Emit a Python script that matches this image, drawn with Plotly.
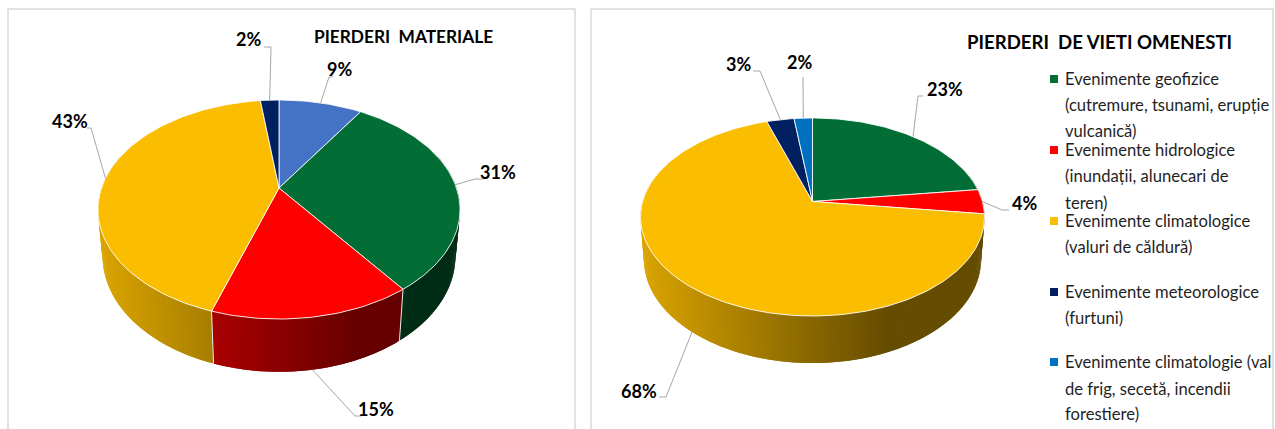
import numpy as np
import plotly.graph_objects as go

# Share of each event type, in percent
material_labels = ["Meteorologice mari", "Geofizice", "Hidrologice", "Climatologice", "Meteorologice"]
material_values = [9, 31, 15, 43, 2]
human_labels = ["Geofizice", "Hidrologice", "Climatologice", "Meteorologice", "Climatologie"]
human_values = [23, 4, 68, 3, 2]

material_colors = ["#4472C4", "#026E36", "#FF0000", "#FBBD00", "#002060"]
human_colors = ["#026E36", "#FF0000", "#FBBD00", "#002060", "#0070C0"]

title_left = "PIERDERI  MATERIALE"
title_right = "PIERDERI  DE VIETI OMENESTI"

legend_entries = [
    ("#026E36", ["Evenimente geofizice", "(cutremure, tsunami, erupție", "vulcanică)"], [79, 105, 131]),
    ("#FF0000", ["Evenimente hidrologice", "(inundații, alunecari de", "teren)"], [150, 176, 203]),
    ("#FBBD00", ["Evenimente climatologice", "(valuri de căldură)"], [221, 247]),
    ("#002060", ["Evenimente meteorologice", "(furtuni)"], [292, 318]),
    ("#0070C0", ["Evenimente climatologie (val", "de frig, secetă, incendii", "forestiere)"], [362, 389, 414]),
]

# Pie geometry in page pixels: apex, disc scale, perspective and thickness
LEFT_PIE = dict(cx=279, cy=188, a=177.5, b=105.3, k=0.1964, m=0.025, d=47)
RIGHT_PIE = dict(cx=812.5, cy=201.5, a=169.9, b=96.6, k=0.1565, m=0.02, d=42.9)

# Leader routes per slice: rim level (0 top, 1 bottom), then bend points; text centre last
LEFT_LEADERS = [
    (0, [(329, 77), (333, 77)], (339, 69)),
    (0, [(475, 179), (484, 179)], (498, 172)),
    (1, [(355, 416), (361, 416)], (376, 409)),
    (0, [(91, 128), (87, 128)], (70, 121)),
    (0, [(271, 47), (264, 47)], (248, 39)),
]
RIGHT_LEADERS = [
    (0, [(918, 96), (923, 96)], (945, 89)),
    (0, [(1002, 210), (1009, 210)], (1024, 203)),
    (1, [(666, 397), (659, 397)], (639, 391)),
    (0, [(760, 71), (753, 71)], (738, 64)),
    (0, [(803, 77)], (799, 62)),
]


def project(p, theta, z=0.0):
    """Map a rim angle (clockwise from 12 o'clock) to page pixels."""
    u, v = np.sin(theta), -np.cos(theta)
    w = 1 - p["k"] * v + p["m"] * z
    return p["cx"] + p["a"] * u / w, p["cy"] + (p["b"] * v + p["d"] * z) / w


def side_shade(color, frac):
    """Darken a base colour from left to right across the pie."""
    f = 0.87 - (0.87 - 0.40) * min(max(frac, 0) / 0.72, 1)
    r, g, b = (int(color[i:i + 2], 16) for i in (1, 3, 5))
    return f"rgb({r * f:.0f},{g * f:.0f},{b * f:.0f})"


def add_pie(fig, p, values, colors, leaders, ann):
    edges = np.cumsum([0] + list(values)) / sum(values) * 2 * np.pi
    left = project(p, -np.pi / 2)[0] - 3
    width = 2 * (p["cx"] - left)

    # Cylinder wall: fine shaded bands on the front half, each overlapping the next
    step = np.radians(0.8)
    for i, col in enumerate(colors):
        t0, t1 = edges[i], edges[i + 1]
        if t1 <= np.pi * 0.4 or t0 >= np.pi * 1.6:
            continue
        t0c, t1c = max(t0, np.pi * 0.4), min(t1, np.pi * 1.6)
        n = max(2, int((t1c - t0c) / step))
        ts = np.linspace(t0c, t1c, n + 1)
        for a0, a1 in zip(ts[:-1], ts[1:]):
            a1x = min(a1 + step, t1c)
            x0, y0 = project(p, a0)
            x1, y1 = project(p, a1x)
            x2, y2 = project(p, a1x, 1)
            x3, y3 = project(p, a0, 1)
            shade = side_shade(col, ((x0 + project(p, a1)[0]) / 2 - left) / width)
            fig.add_trace(go.Scatter(
                x=[x0, x1, x2, x3, x0], y=[y0, y1, y2, y3, y0], mode="lines",
                fill="toself", fillcolor=shade, line=dict(width=0),
                hoverinfo="skip", showlegend=False))

    # Seams where two slices meet on the wall
    for e in edges[:-1]:
        if np.pi * 0.55 < e < np.pi * 1.45:
            x0, y0 = project(p, e)
            x1, y1 = project(p, e, 1)
            fig.add_trace(go.Scatter(
                x=[x0, x1], y=[y0, y1], mode="lines",
                line=dict(color="#e8e8e8", width=1), hoverinfo="skip", showlegend=False))

    # Top face
    for i, col in enumerate(colors):
        ts = np.linspace(edges[i], edges[i + 1], max(4, int((edges[i + 1] - edges[i]) / 0.02)))
        xs, ys = project(p, ts)
        fig.add_trace(go.Scatter(
            x=np.r_[p["cx"], xs, p["cx"]], y=np.r_[p["cy"], ys, p["cy"]], mode="lines",
            fill="toself", fillcolor=col, line=dict(color="rgba(255,255,255,0.85)", width=1),
            hoverinfo="skip", showlegend=False))

    # Leader lines and percentage labels
    for i, (level, bends, centre) in enumerate(leaders):
        mid = (edges[i] + edges[i + 1]) / 2
        x0, y0 = project(p, mid, level)
        fig.add_trace(go.Scatter(
            x=[x0] + [q[0] for q in bends], y=[y0] + [q[1] for q in bends], mode="lines",
            line=dict(color="#a6a6a6", width=1), hoverinfo="skip", showlegend=False))
        ann.append(dict(x=centre[0], y=centre[1], text=f"<b>{values[i]}%</b>", showarrow=False,
                        xanchor="center", yanchor="middle",
                        font=dict(family="Lato", size=18, color="#000000")))


fig = go.Figure()
annotations = []
add_pie(fig, LEFT_PIE, material_values, material_colors, LEFT_LEADERS, annotations)
add_pie(fig, RIGHT_PIE, human_values, human_colors, RIGHT_LEADERS, annotations)

for text, x, y, size in [(title_left, 403, 36, 17.3), (title_right, 1099, 42, 18.6)]:
    annotations.append(dict(x=x, y=y, text=f"<b>{text}</b>", showarrow=False, xanchor="center",
                            yanchor="middle", font=dict(family="Lato", size=size, color="#000000")))

# Hand-placed legend so each wrapped line keeps its own row
for color, lines, rows in legend_entries:
    fig.add_trace(go.Scatter(
        x=[1054], y=[rows[0]], mode="markers",
        marker=dict(symbol="square", size=8, color=color), hoverinfo="skip", showlegend=False))
    for line, row in zip(lines, rows):
        annotations.append(dict(x=1062.5, y=row, text=line, showarrow=False, xanchor="left",
                                yanchor="middle", font=dict(family="Lato", size=16.6, color="#1f1f1f")))

panel_line = dict(color="#d9d9d9", width=1.5)
shapes = [
    dict(type="path", path="M 8 432 L 8 9 L 575 9 L 575 432", line=panel_line, layer="below"),
    dict(type="path", path="M 591 432 L 591 9 L 1273 9 L 1273 432", line=panel_line, layer="below"),
]

fig.update_layout(
    width=1275, height=429, margin=dict(l=0, r=0, t=0, b=0),
    paper_bgcolor="white", plot_bgcolor="white", showlegend=False,
    xaxis=dict(range=[0, 1275], visible=False, fixedrange=True),
    yaxis=dict(range=[429, 0], visible=False, fixedrange=True),
    annotations=annotations, shapes=shapes,
)
fig.write_html("out.html", config=dict(displayModeBar=False))
